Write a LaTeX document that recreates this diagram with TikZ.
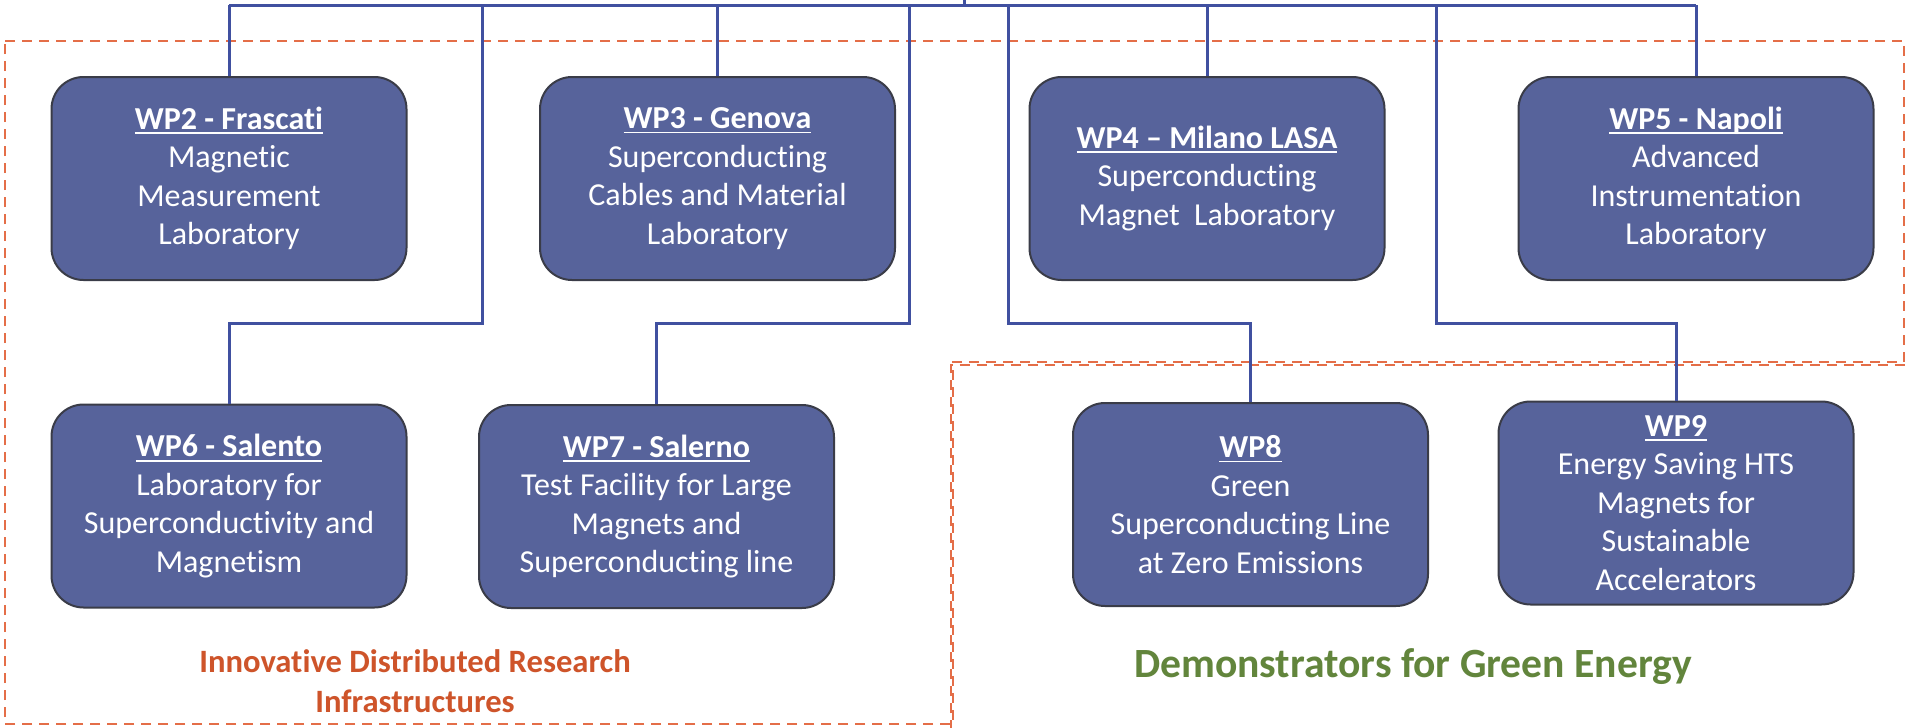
\documentclass[tikz,border=0pt]{standalone}
\usepackage{fontspec}
\setmainfont{Carlito}[Ligatures=NoCommon]

\definecolor{wpfill}{RGB}{87,99,155}
\definecolor{wpedge}{RGB}{58,60,72}
\definecolor{linkblue}{RGB}{64,80,160}
\definecolor{zoneorange}{RGB}{228,110,72}
\definecolor{infraorange}{RGB}{206,84,42}
\definecolor{greenlabel}{RGB}{98,133,60}

% underline drawn at a fixed depth, so descenders do not push it down
\newcommand\wpul[1]{\setbox0=\hbox{#1}\rlap{\rule[-2.4pt]{\wd0}{0.9pt}}\box0}

\tikzset{
  wpbox/.style={draw=wpedge, line width=1pt, fill=wpfill, rounded corners=16pt,
    minimum width=177.5pt, minimum height=101.5pt, inner sep=0pt, text=white,
    align=center, font=\fontsize{16}{19.25}\selectfont},
  link/.style={draw=linkblue, line width=1.5pt},
  zone/.style={draw=zoneorange, line width=1pt, dash pattern=on 5pt off 3.5pt},
  infra/.style={text=infraorange, align=center, font=\bfseries\fontsize{16.3}{20}\selectfont},
  demo/.style={text=greenlabel, font=\bfseries\fontsize{20.8}{24}\selectfont},
}

\begin{document}
\begin{tikzpicture}[x=0.5pt,y=-0.5pt]
\useasboundingbox (0,0) rectangle (1906,728);
\fill[white] (0,0) rectangle (1906,728);

% dashed groupings: research infrastructures (L-shaped) and green demonstrators
\draw[zone] (5,41) -- (1904,41) -- (1904,362) -- (953,362) -- (953,724) -- (5,724) -- cycle;
\draw[zone] (951,730) -- (951,364.5) -- (1906,364.5);

% work package boxes
\node[wpbox] (wp2) at (229,178.5) {\textbf{\wpul{WP2 - Frascati}}\\Magnetic\\Measurement\\Laboratory};
\node[wpbox] (wp3) at (717.5,178.5) {\textbf{\wpul{WP3 - Genova}}\\Superconducting\\Cables and Material\\Laboratory};
\node[wpbox] (wp4) at (1207,178.5) {\textbf{\wpul{WP4 – Milano LASA}}\\Superconducting\\Magnet~ Laboratory};
\node[wpbox] (wp5) at (1696,178.5) {\textbf{\wpul{WP5 - Napoli}}\\Advanced\\Instrumentation\\Laboratory};
\node[wpbox] (wp6) at (229,506) {\textbf{\wpul{WP6 - Salento}}\\Laboratory for\\Superconductivity and\\Magnetism};
\node[wpbox] (wp7) at (656.5,506.5) {\textbf{\wpul{WP7 - Salerno}}\\Test Facility for Large\\Magnets and\\Superconducting line};
\node[wpbox] (wp8) at (1250.5,504.5) {\textbf{\wpul{WP8}}\\Green\\Superconducting Line\\at Zero Emissions};
\node[wpbox] (wp9) at (1676,503) {\textbf{\wpul{WP9}}\\Energy Saving HTS\\Magnets for\\Sustainable\\Accelerators};

% tree connectors
\coordinate (root) at (964,0);
\coordinate (bus) at (964,5);
\coordinate (j6) at (482,323);
\coordinate (j7) at (909,323);
\coordinate (j8) at (1008,323);
\coordinate (j9) at (1436,323);

\draw[link] (root) -- (bus);
\draw[link] (wp2.north |- bus) -- (wp5.north |- bus);
\draw[link] (wp2.north |- bus) -- (wp2.north);
\draw[link] (wp3.north |- bus) -- (wp3.north);
\draw[link] (wp4.north |- bus) -- (wp4.north);
\draw[link] (wp5.north |- bus) -- (wp5.north);
\draw[link] (j6 |- bus) -- (j6) -| (wp6.north);
\draw[link] (j7 |- bus) -- (j7) -| (wp7.north);
\draw[link] (j8 |- bus) -- (j8) -| (wp8.north);
\draw[link] (j9 |- bus) -- (j9) -| (wp9.north);

% group labels
\node[infra] (infra) at (415,681) {Innovative Distributed Research\\Infrastructures};
\node[demo, anchor=base] (demo) at (1413,677) {Demonstrators for Green Energy};
\end{tikzpicture}
\end{document}
